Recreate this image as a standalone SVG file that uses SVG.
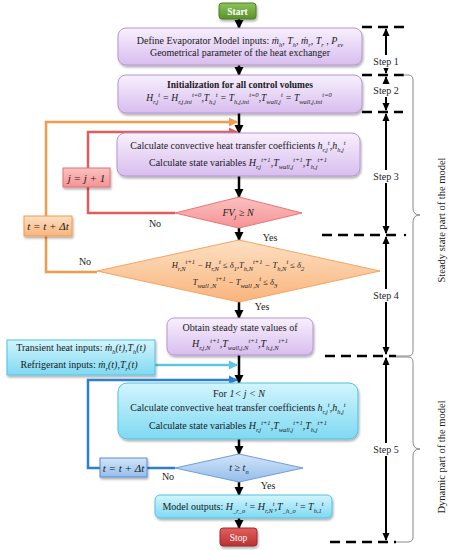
<svg xmlns="http://www.w3.org/2000/svg" width="450" height="550" viewBox="0 0 450 550">
<defs>
<style>
.t{font-family:"Liberation Serif","Times New Roman",serif;font-size:10px;fill:#1a1a1a;text-anchor:middle}
.i{font-style:italic}
.sb{font-size:6.5px;font-style:italic;baseline-shift:-2.5px}
.sp{font-size:6.5px;font-style:italic;baseline-shift:4px}
.lbl{font-family:"Liberation Serif","Times New Roman",serif;font-size:10px;fill:#1a1a1a;text-anchor:middle}
.main{stroke:#000;stroke-width:2.5;fill:none;marker-end:url(#ab)}
.step{stroke:#000;stroke-width:2;fill:none;marker-start:url(#as);marker-end:url(#as)}
.dash{stroke:#000;stroke-width:2.5;stroke-dasharray:10 6;fill:none}
.brace{stroke:#8a8a8a;stroke-width:1;fill:none}
</style>
<linearGradient id="gp" x1="0" y1="0" x2="0" y2="1"><stop offset="0" stop-color="#f8f0fd"/><stop offset="1" stop-color="#d8bdee"/></linearGradient>
<linearGradient id="gc" x1="0" y1="0" x2="0" y2="1"><stop offset="0" stop-color="#d2f5fd"/><stop offset="1" stop-color="#7fd9f2"/></linearGradient>
<linearGradient id="gg" x1="0" y1="0" x2="0" y2="1"><stop offset="0" stop-color="#8dc45a"/><stop offset="1" stop-color="#5b902c"/></linearGradient>
<linearGradient id="gs" x1="0" y1="0" x2="0" y2="1"><stop offset="0" stop-color="#e45e5e"/><stop offset="1" stop-color="#b83232"/></linearGradient>
<linearGradient id="gr" x1="0" y1="0" x2="0" y2="1"><stop offset="0" stop-color="#fbc0c0"/><stop offset="1" stop-color="#f49494"/></linearGradient>
<linearGradient id="go" x1="0" y1="0" x2="0" y2="1"><stop offset="0" stop-color="#fde0c4"/><stop offset="1" stop-color="#f9b47c"/></linearGradient>
<linearGradient id="gb" x1="0" y1="0" x2="0" y2="1"><stop offset="0" stop-color="#d3e5f9"/><stop offset="1" stop-color="#93bdeb"/></linearGradient>
<filter id="sh" x="-10%" y="-20%" width="120%" height="150%"><feDropShadow dx="1" dy="2" stdDeviation="1.2" flood-color="#000" flood-opacity="0.3"/></filter>
<marker id="ab" markerUnits="userSpaceOnUse" markerWidth="10" markerHeight="10" refX="8" refY="5" orient="auto"><path d="M0,0.5 L9,5 L0,9.5 Z" fill="#000"/></marker>
<marker id="as" markerUnits="userSpaceOnUse" markerWidth="8" markerHeight="8" refX="7" refY="4" orient="auto-start-reverse"><path d="M0,0.5 L8,4 L0,7.5 Z" fill="#000"/></marker>
<marker id="ao" markerUnits="userSpaceOnUse" markerWidth="10" markerHeight="10" refX="8" refY="5" orient="auto"><path d="M0,0.5 L9,5 L0,9.5 Z" fill="#f59a4a"/></marker>
<marker id="ar" markerUnits="userSpaceOnUse" markerWidth="10" markerHeight="10" refX="8" refY="5" orient="auto"><path d="M0,0.5 L9,5 L0,9.5 Z" fill="#e25c5c"/></marker>
<marker id="ac" markerUnits="userSpaceOnUse" markerWidth="10" markerHeight="10" refX="8" refY="5" orient="auto"><path d="M0,0.5 L9,5 L0,9.5 Z" fill="#5ec6e2"/></marker>
<marker id="abl" markerUnits="userSpaceOnUse" markerWidth="10" markerHeight="10" refX="8" refY="5" orient="auto"><path d="M0,0.5 L9,5 L0,9.5 Z" fill="#2f7fd0"/></marker>
</defs>
<rect width="450" height="550" fill="#fff"/>

<g id="connectors">
<path class="main" d="M239,18 V28"/>
<path class="main" d="M239,65 V75"/>
<path class="main" d="M239,113 V133"/>
<path class="main" d="M239,176 V197"/>
<path class="main" d="M239,228 V240"/>
<path class="main" d="M239,302 V318"/>
<path class="main" d="M239,355 V383"/>
<path class="main" d="M239,439 V454"/>
<path class="main" d="M239,482 V495"/>
<path class="main" d="M239,518 V528"/>
<path d="M97,272 H46 V236" stroke="#f59a4a" stroke-width="2.5" fill="none"/>
<path d="M46,216 V122 H237" stroke="#f59a4a" stroke-width="2.5" fill="none" marker-end="url(#ao)"/>
<path d="M175,213 H88 V187" stroke="#e25c5c" stroke-width="2.5" fill="none"/>
<path d="M88,168 V132 H237" stroke="#e25c5c" stroke-width="2.5" fill="none" marker-end="url(#ar)"/>
<path d="M155,365 H237" stroke="#5ec6e2" stroke-width="2.5" fill="none" marker-end="url(#ac)"/>
<path d="M175,468 H147" stroke="#2f7fd0" stroke-width="2.5" fill="none"/>
<path d="M100,468 H88 V380 H237" stroke="#2f7fd0" stroke-width="2.5" fill="none" marker-end="url(#abl)"/>
<text class="lbl" x="85" y="265">No</text>
<text class="lbl" x="155" y="227">No</text>
<text class="lbl" x="270" y="241">Yes</text>
<text class="lbl" x="262" y="310">Yes</text>
<text class="lbl" x="168" y="480">No</text>
<text class="lbl" x="268" y="489">Yes</text>
</g>

<g id="steps">
<path class="dash" d="M362,27 H405"/>
<path class="dash" d="M362,75 H404"/>
<path class="dash" d="M362,112 H403"/>
<path class="dash" d="M322,235 H400"/>
<circle cx="405" cy="235" r="1.2" fill="#000"/>
<path class="dash" d="M325,356 H396"/>
<path class="dash" d="M330,542 H396"/>
<path class="step" d="M386,29 V73"/>
<path class="step" d="M386,77 V110"/>
<path class="step" d="M386,114 V233"/>
<path class="step" d="M386,237 V354"/>
<path class="step" d="M386,358 V540"/>
<rect x="368" y="55" width="36" height="13" fill="#fff"/>
<text class="lbl" x="386" y="65">Step 1</text>
<rect x="368" y="84" width="36" height="13" fill="#fff"/>
<text class="lbl" x="386" y="94">Step 2</text>
<rect x="368" y="170" width="36" height="13" fill="#fff"/>
<text class="lbl" x="386" y="180">Step 3</text>
<rect x="368" y="289" width="36" height="13" fill="#fff"/>
<text class="lbl" x="386" y="299">Step 4</text>
<rect x="368" y="443" width="36" height="13" fill="#fff"/>
<text class="lbl" x="386" y="453">Step 5</text>
<path class="brace" d="M403,75 H408 Q413,75 413,80 V208 Q413,215 420,215 Q413,215 413,222 V351 Q413,356 408,356 H396"/>
<path class="brace" d="M396,357 H408 Q413,357 413,362 V442 Q413,449 420,449 Q413,449 413,456 V537 Q413,542 408,542 H396"/>
<text class="lbl" transform="translate(445,220) rotate(-90)" style="font-size:10.5px">Steady state part of the model</text>
<text class="lbl" transform="translate(445,457) rotate(-90)" style="font-size:10.5px">Dynamic part of the model</text>
</g>

<g id="start">
<rect x="219" y="3" width="37" height="16" rx="3" fill="url(#gg)" stroke="#4c7d22" stroke-width="1" filter="url(#sh)"/>
<text class="t" x="237.5" y="14.5" style="fill:#fff;font-weight:bold;font-size:9.5px">Start</text>
</g>

<g id="define">
<rect x="118" y="28" width="244" height="37" rx="8" fill="url(#gp)" stroke="#b596d4" stroke-width="1" filter="url(#sh)"/>
<text class="t" x="240" y="44">Define Evaporator Model inputs: <tspan class="i">ṁ</tspan><tspan class="sb">h</tspan><tspan class="i">, T</tspan><tspan class="sb">h</tspan><tspan class="i">, ṁ</tspan><tspan class="sb">r</tspan><tspan class="i">, T</tspan><tspan class="sb">r</tspan><tspan class="i"> , P</tspan><tspan class="sb">ev</tspan></text>
<text class="t" x="240" y="56">Geometrical parameter of the heat exchanger</text>
</g>

<g id="init">
<rect x="118" y="75" width="244" height="38" rx="8" fill="url(#gp)" stroke="#b596d4" stroke-width="1" filter="url(#sh)"/>
<text class="t" x="240" y="88" style="font-weight:bold;font-size:9.5px">Initialization for all control volumes</text>
<text class="t i" x="239" y="101" style="font-size:9.5px">H<tspan class="sb">r,j</tspan><tspan class="sp">t</tspan> = H<tspan class="sb">r,j,ini</tspan><tspan class="sp">t=0</tspan>,T<tspan class="sb">h,j</tspan><tspan class="sp">t</tspan> = T<tspan class="sb">h,j,ini</tspan><tspan class="sp">t=0</tspan>,T<tspan class="sb">wall,j</tspan><tspan class="sp">t</tspan> = T<tspan class="sb">wall,j,ini</tspan><tspan class="sp">t=0</tspan></text>
</g>

<g id="calc1">
<rect x="117" y="133" width="243" height="43" rx="8" fill="url(#gp)" stroke="#b596d4" stroke-width="1" filter="url(#sh)"/>
<text class="t" x="238" y="149">Calculate convective heat transfer coefficients  <tspan class="i">h</tspan><tspan class="sb">r,j</tspan><tspan class="sp">t</tspan>,<tspan class="i">h</tspan><tspan class="sb">h,j</tspan><tspan class="sp">t</tspan></text>
<text class="t" x="238" y="166">Calculate state variables  <tspan class="i">H</tspan><tspan class="sb">r,j</tspan><tspan class="sp">t+1</tspan>,<tspan class="i">T</tspan><tspan class="sb">wall,j</tspan><tspan class="sp">t+1</tspan>,<tspan class="i">T</tspan><tspan class="sb">h,j</tspan><tspan class="sp">t+1</tspan></text>
</g>

<g id="fv">
<polygon points="239,197 302,213 239,228 175,213" fill="url(#gr)" stroke="#ee7474" stroke-width="1"/>
<text class="t i" x="238" y="216">FV<tspan class="sb">j</tspan> ≥ N</text>
</g>

<g id="jbox">
<rect x="63" y="168" width="47" height="19" fill="url(#gr)" stroke="#e47272" stroke-width="1" filter="url(#sh)"/>
<text class="t i" x="86.5" y="181.5" style="font-size:11px">j = j + 1</text>
</g>

<g id="tbox1">
<rect x="24" y="216" width="48" height="20" fill="url(#go)" stroke="#f59a4a" stroke-width="1" filter="url(#sh)"/>
<text class="t i" x="48" y="230" style="font-size:11px">t = t + Δt</text>
</g>

<g id="conv">
<polygon points="239,240 380,271 239,302 97,271" fill="url(#go)" stroke="#f5a462" stroke-width="1"/>
<text class="t i" x="238" y="268" style="font-size:8.5px">H<tspan class="sb">r,N</tspan><tspan class="sp">t+1</tspan> − H<tspan class="sb">r,N</tspan><tspan class="sp">t</tspan> ≤ δ<tspan class="sb">1</tspan>,T<tspan class="sb">h,N</tspan><tspan class="sp">t+1</tspan> − T<tspan class="sb">h,N</tspan><tspan class="sp">t</tspan> ≤ δ<tspan class="sb">2</tspan></text>
<text class="t i" x="235" y="285" style="font-size:8.5px">T<tspan class="sb">wall ,N</tspan><tspan class="sp">t+1</tspan> − T<tspan class="sb">wall ,N</tspan><tspan class="sp">t</tspan>  ≤  δ<tspan class="sb">3</tspan></text>
</g>

<g id="obtain">
<rect x="167" y="318" width="146" height="37" rx="7" fill="url(#gp)" stroke="#b596d4" stroke-width="1" filter="url(#sh)"/>
<text class="t" x="240" y="331">Obtain steady state values of</text>
<text class="t i" x="240" y="347">H<tspan class="sb">r,j,N</tspan><tspan class="sp">t+1</tspan>,T<tspan class="sb">wall,j,N</tspan><tspan class="sp">t+1</tspan>,T<tspan class="sb">h,j,N</tspan><tspan class="sp">t+1</tspan></text>
</g>

<g id="transient">
<rect x="7" y="340" width="148" height="35" fill="url(#gc)" stroke="#4ec3e0" stroke-width="1" filter="url(#sh)"/>
<text class="t" x="81" y="350.5">Transient heat inputs:  <tspan class="i">ṁ</tspan><tspan class="sb">h</tspan><tspan class="i">(t),T</tspan><tspan class="sb">h</tspan><tspan class="i">(t)</tspan></text>
<text class="t" x="79" y="367.5">Refrigerant inputs:  <tspan class="i">ṁ</tspan><tspan class="sb">r</tspan><tspan class="i">(t),T</tspan><tspan class="sb">r</tspan><tspan class="i">(t)</tspan></text>
</g>

<g id="calc2">
<rect x="118" y="383" width="240" height="56" rx="9" fill="url(#gc)" stroke="#4ec3e0" stroke-width="1" filter="url(#sh)"/>
<text class="t" x="239" y="396.5">For <tspan class="i">1&lt; j &lt; N</tspan></text>
<text class="t" x="238" y="411">Calculate convective heat transfer coefficients  <tspan class="i">h</tspan><tspan class="sb">r,j</tspan><tspan class="sp">t</tspan>,<tspan class="i">h</tspan><tspan class="sb">h,j</tspan><tspan class="sp">t</tspan></text>
<text class="t" x="238" y="429">Calculate state variables  <tspan class="i">H</tspan><tspan class="sb">r,j</tspan><tspan class="sp">t+1</tspan>,<tspan class="i">T</tspan><tspan class="sb">wall,j</tspan><tspan class="sp">t+1</tspan>,<tspan class="i">T</tspan><tspan class="sb">h,j</tspan><tspan class="sp">t+1</tspan></text>
</g>

<g id="tn">
<polygon points="239,454 303,468 239,482 175,468" fill="url(#gb)" stroke="#6f9fd8" stroke-width="1"/>
<text class="t i" x="239" y="471">t ≥ t<tspan class="sb">n</tspan></text>
</g>

<g id="tbox2">
<rect x="100" y="458" width="47" height="19" fill="url(#gb)" stroke="#5a8ad0" stroke-width="1" filter="url(#sh)"/>
<text class="t i" x="123.5" y="471.5" style="font-size:11px">t = t + Δt</text>
</g>

<g id="outputs">
<rect x="155" y="495" width="177" height="23" rx="5" fill="url(#gc)" stroke="#4ec3e0" stroke-width="1" filter="url(#sh)"/>
<text class="t" x="243" y="510">Model outputs: <tspan class="i">H</tspan><tspan class="sb">_r_o</tspan><tspan class="sp">t</tspan> = <tspan class="i">H</tspan><tspan class="sb">r,N</tspan><tspan class="sp">t</tspan>,<tspan class="i">T</tspan><tspan class="sb">_h_o</tspan><tspan class="sp">t</tspan> = <tspan class="i">T</tspan><tspan class="sb">h,1</tspan><tspan class="sp">t</tspan></text>
</g>

<g id="stop">
<rect x="220" y="528" width="37" height="18" rx="3" fill="url(#gs)" stroke="#9e2a2a" stroke-width="1" filter="url(#sh)"/>
<text class="t" x="238.5" y="540.5" style="fill:#fff;font-size:9.5px">Stop</text>
</g>
</svg>
